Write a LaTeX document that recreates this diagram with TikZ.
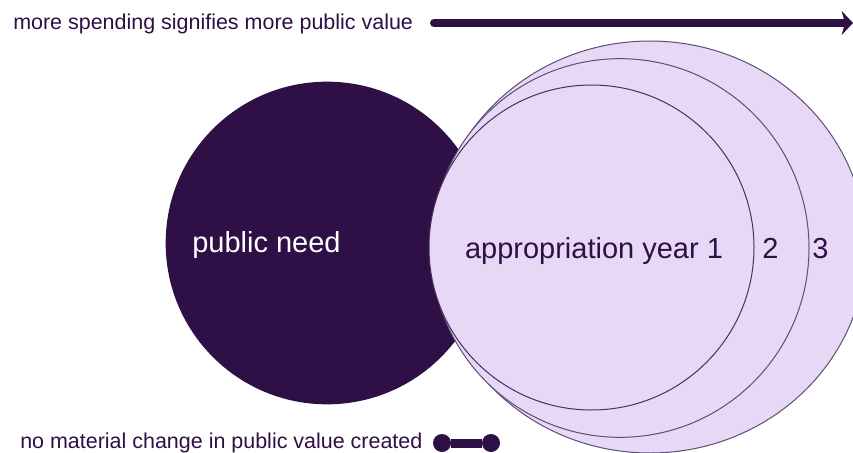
\documentclass[tikz,border=0pt]{standalone}
\usepackage{fontspec}
\setmainfont{Liberation Sans}
\usetikzlibrary{shapes.geometric,arrows.meta}
\definecolor{plum}{HTML}{2E0F46}
\definecolor{lilac}{HTML}{E7D9F5}
\definecolor{rim}{HTML}{5E4D74}
\begin{document}
\begin{tikzpicture}[x=0.75pt,y=-0.75pt,
  caption/.style={font=\fontsize{16.1pt}{19pt}\selectfont, text=plum, inner sep=0pt, anchor=base west},
  bigtext/.style={font=\fontsize{21.75pt}{26pt}\selectfont, inner sep=0pt, anchor=base},
  disc/.style={ellipse, draw=rim, line width=0.75pt, fill=lilac, inner sep=0pt},
  knob/.style={circle, fill=plum, minimum size=13.5pt, inner sep=0pt},
]
\clip (0,0) rectangle (853,453);

% public need
\node[circle, fill=plum, minimum size=242pt, inner sep=0pt] (need) at (327,243) {};

% appropriations, largest first
\node[disc, minimum width=324pt, minimum height=309pt] (y3) at (650,247) {};
\node[disc, minimum width=283.5pt, minimum height=284pt] (y2) at (620,248) {};
\node[disc, draw=plum!85!lilac, minimum width=243.75pt, minimum height=243.75pt] (y1) at (591.5,247.5) {};

% labels
\node[bigtext, text=white] (needlbl) at (266.5,252) {public need};
\node[bigtext, text=plum] (y1lbl) at (594,258) {appropriation year 1};
\node[bigtext, text=plum] (y2lbl) at (770.5,258) {2};
\node[bigtext, text=plum] (y3lbl) at (820.5,258) {3};

% top axis
\node[caption] (toplbl) at (13,30) {more spending signifies more public value};
\coordinate (arrA) at (434,23);
\coordinate (arrB) at (853,23);
\draw[plum, line width=6pt, line cap=round, -{Stealth[length=8.5pt,width=18pt,inset=2.5pt]}] (arrA) -- (arrB);

% bottom legend
\node[caption] (botlbl) at (20,448) {no material change in public value created};
\node[knob] (dL) at (442,443) {};
\node[knob] (dR) at (491,443) {};
\draw[plum, line width=6.75pt] (dL) -- (dR);
\end{tikzpicture}
\end{document}
